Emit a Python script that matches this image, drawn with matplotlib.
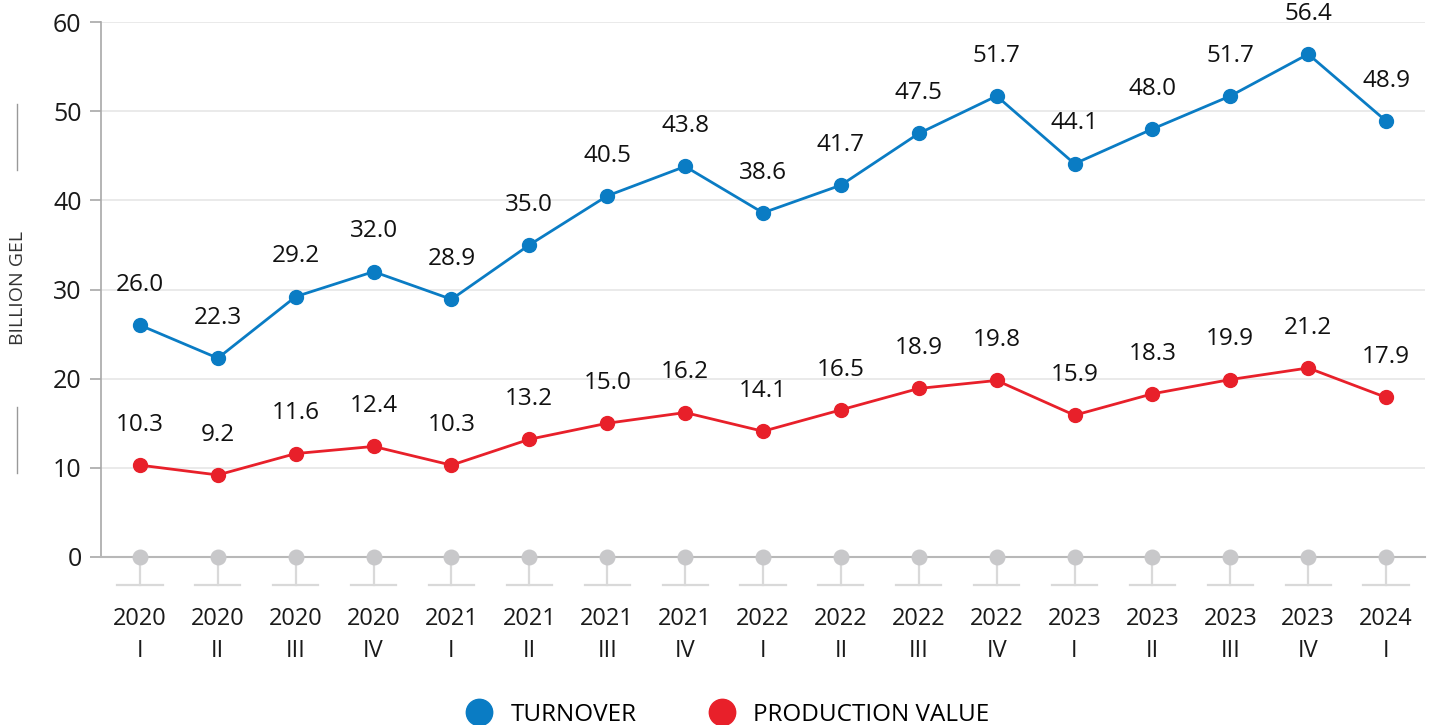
import numpy as np
import matplotlib.pyplot as plt
from matplotlib.lines import Line2D

plt.rcParams["font.family"] = ["Open Sans", "DejaVu Sans"]

years = ["2020", "2020", "2020", "2020", "2021", "2021", "2021", "2021",
         "2022", "2022", "2022", "2022", "2023", "2023", "2023", "2023", "2024"]
quarters = ["I", "II", "III", "IV", "I", "II", "III", "IV",
            "I", "II", "III", "IV", "I", "II", "III", "IV", "I"]
turnover = [26.0, 22.3, 29.2, 32.0, 28.9, 35.0, 40.5, 43.8,
            38.6, 41.7, 47.5, 51.7, 44.1, 48.0, 51.7, 56.4, 48.9]
production = [10.3, 9.2, 11.6, 12.4, 10.3, 13.2, 15.0, 16.2,
              14.1, 16.5, 18.9, 19.8, 15.9, 18.3, 19.9, 21.2, 17.9]

blue = "#0a7cc4"
red = "#e8202a"
grey = "#c8c8ca"

x = np.arange(len(years))

fig = plt.figure(figsize=(14.3, 7.25), dpi=100)
ax = fig.add_axes([101 / 1430, 1 - 557 / 725, 1324 / 1430, 535 / 725])

ax.set_xlim(-0.5, len(years) - 0.5)
ax.set_ylim(0, 60)
ax.set_yticks(range(0, 61, 10))
ax.grid(axis="y", color="#e6e6e6", lw=1.2)
ax.set_axisbelow(True)

for s in ["top", "right"]:
    ax.spines[s].set_visible(False)
ax.spines["left"].set_color("#a8a8a8")
ax.spines["bottom"].set_color("#b8b8b8")
ax.spines["left"].set_linewidth(1.2)
ax.spines["bottom"].set_linewidth(1.5)
ax.tick_params(axis="y", length=8, color="#a8a8a8", width=1.2, labelsize=18, pad=6)
ax.tick_params(axis="x", length=0, pad=36, labelsize=17)
ax.set_xticks(x)
ax.set_xticklabels([f"{y}\n{q}" for y, q in zip(years, quarters)], linespacing=1.45)
for lab in ax.get_xticklabels() + ax.get_yticklabels():
    lab.set_color("#1a1a1a")

# grey stems under the axis
for xi in x:
    ax.plot([xi, xi], [0, -3.1], color="#d9d9d9", lw=1.6, clip_on=False, zorder=1)
    ax.plot([xi - 0.29, xi + 0.29], [-3.1, -3.1], color="#d9d9d9", lw=1.6,
            clip_on=False, zorder=1)
ax.scatter(x, np.zeros(len(x)), s=110, color=grey, zorder=3, clip_on=False)

ax.plot(x, turnover, color=blue, lw=2, marker="o", ms=10, zorder=4)
ax.plot(x, production, color=red, lw=2, marker="o", ms=10, zorder=4)

for xi, v in zip(x, turnover):
    ax.annotate(f"{v:.1f}", (xi, v), xytext=(0, 29), textcoords="offset points",
                ha="center", va="center", fontsize=17.5, color="#111111")
for xi, v in zip(x, production):
    ax.annotate(f"{v:.1f}", (xi, v), xytext=(0, 29), textcoords="offset points",
                ha="center", va="center", fontsize=17.5, color="#111111")

# y label with side lines
fig.text(18 / 1430, 1 - 288 / 725, "BILLION GEL", rotation=90, ha="center",
         va="center", fontsize=14, color="#333333")
fig.add_artist(Line2D([17 / 1430, 17 / 1430], [1 - 104 / 725, 1 - 170 / 725],
                      color="#999999", lw=1))
fig.add_artist(Line2D([17 / 1430, 17 / 1430], [1 - 407 / 725, 1 - 473 / 725],
                      color="#999999", lw=1))

handles = [Line2D([], [], ls="none", marker="o", ms=19, color=blue),
           Line2D([], [], ls="none", marker="o", ms=19, color=red)]
fig.legend(handles, ["TURNOVER", "PRODUCTION VALUE"], loc="center",
           bbox_to_anchor=(0.505, 1 - 715 / 725), ncol=2, frameon=False,
           fontsize=17.5, handletextpad=0.3, columnspacing=2.5)

fig.savefig("out.png", dpi=100)
